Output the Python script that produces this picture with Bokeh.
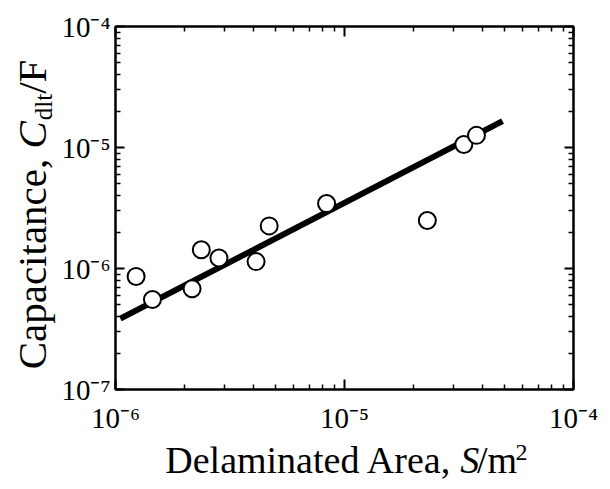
from bokeh.plotting import figure
from bokeh.models import (Range1d, LogAxis, FixedTicker, CustomJSTickFormatter,
                          ColumnDataSource)
from bokeh.layouts import row, column
from bokeh.core.properties import value
from bokeh.embed import file_html
from bokeh.resources import INLINE
import math

# ---- data ----
area = [1.23e-6, 1.45e-6, 2.16e-6, 2.37e-6, 2.83e-6, 4.11e-6, 4.69e-6, 8.35e-6, 2.30e-5, 3.32e-5, 3.77e-5]
cap = [8.6e-7, 5.55e-7, 6.8e-7, 1.43e-6, 1.22e-6, 1.14e-6, 2.25e-6, 3.44e-6, 2.49e-6, 1.06e-5, 1.26e-5]
fit_x = [1.05e-6, 4.9e-5]
fit_y = [3.85e-7, 1.65e-5]
x_major = [1e-6, 1e-5, 1e-4]
y_major = [1e-7, 1e-6, 1e-5, 1e-4]

FONT = "Liberation Serif"

YLAB_W = 58
MAIN_W = 542
MAIN_H = 438
XLAB_H = 42

p = figure(width=MAIN_W, height=MAIN_H, x_axis_type="log", y_axis_type="log",
           x_range=Range1d(1e-6, 1e-4), y_range=Range1d(1e-7, 1e-4),
           output_backend="svg", toolbar_location=None,
           min_border_left=56, min_border_right=27, min_border_top=26, min_border_bottom=49)
p.background_fill_color = "white"
p.border_fill_color = "white"
p.outline_line_color = "black"
p.outline_line_width = 2
p.xgrid.visible = False
p.ygrid.visible = False


def minors(majors):
    out = []
    for m in majors[:-1]:
        out += [m * k for k in range(2, 10)]
    return out


fmt_code = r"""
const sup = {"-": "\u207b", "0": "\u2070", "1": "\u00b9", "2": "\u00b2", "3": "\u00b3",
             "4": "\u2074", "5": "\u2075", "6": "\u2076", "7": "\u2077", "8": "\u2078", "9": "\u2079"};
const e = Math.round(Math.log10(tick));
return "10" + String(e).split("").map(c => sup[c]).join("");
"""


def style(ax, majors, show_labels, major_len, standoff=6):
    ax.ticker = FixedTicker(ticks=majors, minor_ticks=minors(majors))
    ax.formatter = CustomJSTickFormatter(code=fmt_code)
    ax.axis_line_color = "black"
    ax.axis_line_width = 2
    ax.major_tick_line_width = 2
    ax.minor_tick_line_width = 1.5
    ax.major_tick_in = major_len
    ax.major_tick_out = 0
    ax.minor_tick_in = 5
    ax.minor_tick_out = 0
    ax.major_label_text_font = FONT
    ax.major_label_text_color = "black"
    if show_labels:
        ax.major_label_text_font_size = "29px"
        ax.major_label_standoff = standoff
    else:
        ax.major_label_text_font_size = "0px"
        ax.major_label_standoff = 0
        ax.major_label_text_color = None


style(p.xaxis[0], x_major, True, 10, standoff=12)
style(p.yaxis[0], y_major, True, 9, standoff=5)
top = LogAxis()
style(top, x_major, False, 10)
p.add_layout(top, "above")
right = LogAxis()
style(right, y_major, False, 9)
p.add_layout(right, "right")

# fitted line
p.line(fit_x, fit_y, line_color="black", line_width=6)

# data points
src = ColumnDataSource(dict(x=area, y=cap))
p.scatter("x", "y", source=src, size=17, fill_color="white", line_color="black", line_width=2)


def text_panel(w, h):
    f = figure(width=w, height=h, x_range=Range1d(0, w), y_range=Range1d(0, h),
               x_axis_location=None, y_axis_location=None, output_backend="svg",
               toolbar_location=None, min_border=0)
    f.outline_line_color = None
    f.xgrid.visible = False
    f.ygrid.visible = False
    f.background_fill_color = "white"
    f.border_fill_color = "white"
    return f


def put(fig, x, y, txt, size, style_="normal", align="left", angle=0.0):
    fig.text(x=[x], y=[y], text=[txt], angle=angle, text_font=value(FONT),
             text_font_size=value(f"{size}px"), text_font_style=value(style_),
             text_align=align, text_baseline="middle", text_color="black")


# x-axis title: "Delaminated Area, S/m²"
xlab = text_panel(MAIN_W, XLAB_H)
xf = 38
xmid = 21          # vertical middle of the title line, panel pixels from bottom
s_at = 408         # where the italic S starts, panel pixels from left
put(xlab, s_at - 0.25 * xf, xmid, "Delaminated Area,", xf, align="right")
put(xlab, s_at, xmid, "S", xf, style_="italic")
put(xlab, s_at + 0.52 * xf, xmid, "/m", xf)
put(xlab, s_at + (0.52 + 1.2) * xf, xmid + 7, "2", 24)

# y-axis title: "Capacitance, C_dlt/F" (rotated)
ylab = text_panel(YLAB_W, MAIN_H + XLAB_H)
yf = 41
ymid = 31          # horizontal middle of the rotated title, panel pixels
c_at = 332         # where the italic C starts, panel pixels from bottom
A = math.pi / 2
put(ylab, ymid, c_at - 0.25 * yf, "Capacitance,", yf, align="right", angle=A)
put(ylab, ymid, c_at, "C", yf, style_="italic", angle=A)
put(ylab, ymid + 12, c_at + 0.69 * yf, "dlt", 25, angle=A)
put(ylab, ymid, c_at + 0.69 * yf + 1.056 * 25, "/F", yf, angle=A)

layout = row(ylab, column(p, xlab, spacing=0), spacing=0)
open("out.html", "w").write(file_html(layout, INLINE))
